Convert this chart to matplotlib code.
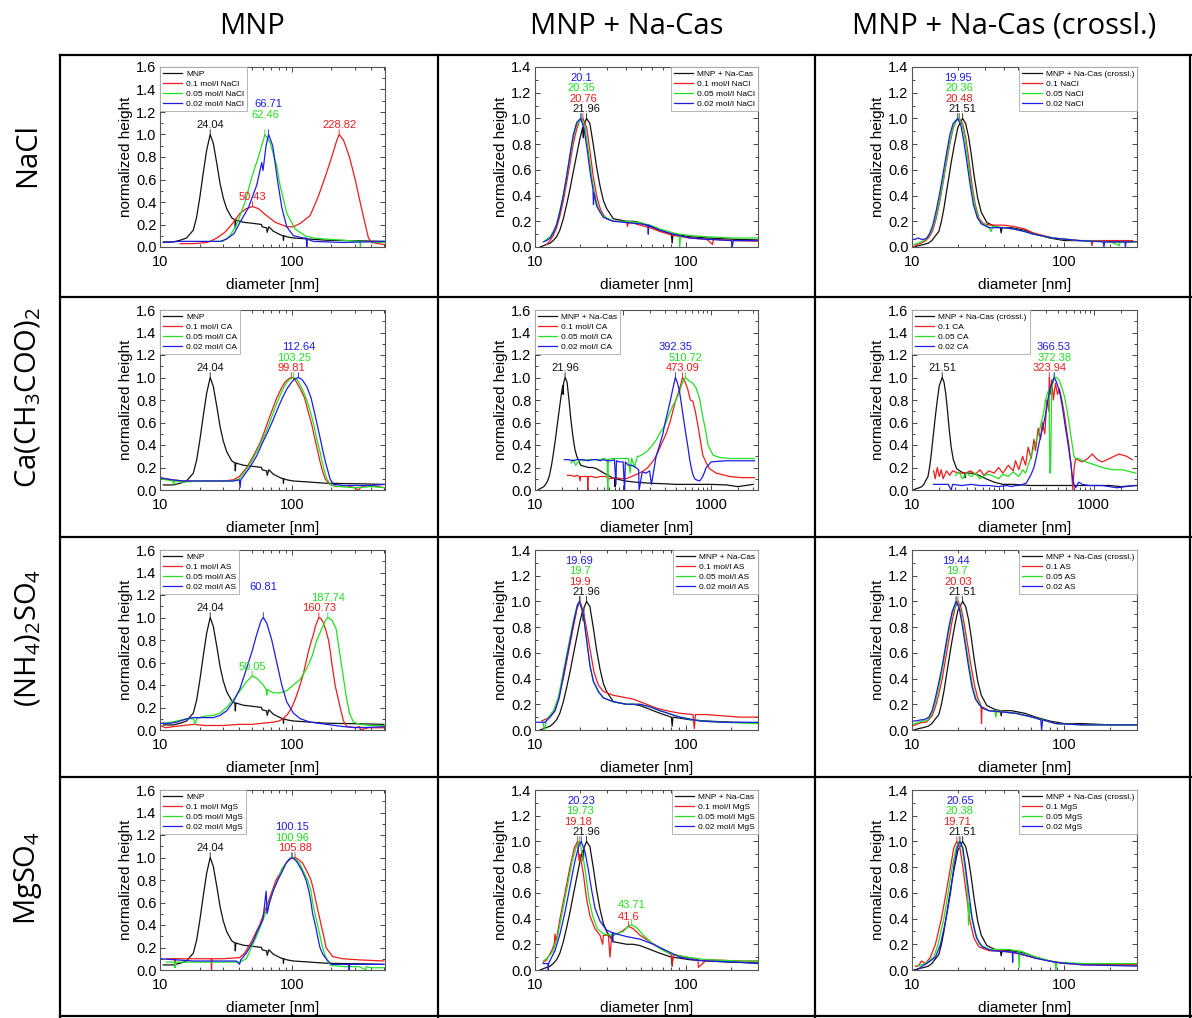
import math
import matplotlib
matplotlib.use("Agg")
import matplotlib.pyplot as plt
from matplotlib.lines import Line2D
from matplotlib.ticker import LogLocator, NullFormatter, MultipleLocator, FuncFormatter

plt.rcParams['font.family'] = ['Liberation Sans', 'DejaVu Sans']
plt.rcParams['mathtext.fontset'] = 'custom'
plt.rcParams['mathtext.rm'] = 'Open Sans'
plt.rcParams['mathtext.it'] = 'Open Sans'

# ---- curves: (diameter [nm], normalized height) ----

# reference (black) curves, one per column
mnp = [(10.6, .045), (12.6, .045), (14.2, .06), (15.9, .08), (17.9, .15), (19.0, .27), (20.1, .45),
       (21.3, .66), (22.6, .86), (24.04, 1.0), (25.4, .92), (27.0, .74), (28.6, .56), (30.3, .43),
       (32.1, .34), (35.0, .26), (37.0, .24), (37.3, .17), (37.6, .24), (43.0, .22), (51.0, .21),
       (59.0, .2), (59.5, .18), (64.5, .17), (65.0, .13), (67.0, .18), (72.5, .14), (81.5, .11),
       (86.0, .10), (86.5, .06), (87.0, .10), (92.0, .09), (103, .08), (138, .07), (184, .06),
       (330, .055), (500, .05)]
mnp_cas = [(10.8, 0), (11.35, .01), (11.95, .02), (12.6, .03), (13.2, .05), (13.9, .08), (14.6, .13),
           (15.4, .22), (16.2, .33), (17.05, .45), (17.9, .58), (18.9, .72), (19.9, .85), (20.7, .93),
           (20.9, .85), (21.1, .95), (21.96, 1.0), (23.1, .96), (24.3, .8), (25.6, .62), (27.0, .47),
           (28.4, .36), (29.8, .3), (33.0, .22), (36.5, .21), (40.5, .2), (44.8, .2), (49.6, .19),
           (57.8, .16), (67.3, .13), (80, .1), (81, .03), (82, .1), (106, .08), (137, .07), (206, .06),
           (300, .055), (400, .05), (700, .05), (1000, .05), (1500, .045), (2000, .03), (3000, .05)]
mnp_cas_x = [(10.3, 0), (11.0, .01), (12.0, .02), (12.8, .03), (13.5, .05), (14.1, .08), (15.0, .12),
             (15.6, .2), (16.2, .3), (16.8, .42), (17.5, .55), (18.1, .66), (19.0, .8), (20.0, .93),
             (21.51, 1.0), (22.5, .96), (23.5, .86), (24.5, .72), (25.6, .55), (27.0, .38), (28.5, .27),
             (31, .19), (35, .16), (38, .15), (38.5, .11), (39, .15), (45, .15), (55, .13), (65, .1),
             (80, .07), (100, .05), (130, .05), (200, .04), (280, .04), (400, .04), (700, .04),
             (1000, .04), (1500, .04), (2000, .03), (3000, .04)]

# NaCl
nacl_01 = [(14.2, .03), (18, .03), (22.6, .04), (24, .05), (27, .08), (31, .13), (35, .2), (40.5, .3),
           (45, .34), (50.4, .36), (56, .34), (62.7, .29), (74.7, .22), (91.6, .18), (103, .18), (116, .21),
           (138, .28), (159, .45), (179, .62), (201, .8), (220, .95), (228.82, 1.0), (247, .95), (274, .8),
           (303, .6), (330, .4), (361, .2), (382, .08), (405, .04), (510, .02)]
nacl_005 = [(24, .05), (30, .05), (34, .1), (38.2, .2), (44.2, .4), (49.7, .62), (55.8, .8), (60.9, .95),
            (62.46, 1.0), (68.4, .93), (76.9, .72), (81.5, .55), (91.6, .3), (106, .16), (126, .1),
            (146, .08), (184, .07), (247, .06), (330, .05), (332, .0), (334, .05), (510, .04)]
nacl_002 = [(10.6, .04), (14, .05), (20, .05), (28.6, .05), (32, .07), (36.5, .12), (40.5, .22), (46.9, .35),
            (54.2, .55), (59.2, .75), (60.5, .68), (63.8, .9), (66.71, 1.0), (71.7, .9), (77.8, .6),
            (84, .35), (91.6, .18), (103, .1), (122.6, .08), (129, .08), (130, .0), (131, .07), (146, .05),
            (247, .04), (510, .05)]
cas_nacl_01 = [(11.95, .02), (12.6, .05), (13.2, .09), (13.9, .15), (14.6, .24), (15.4, .36), (16.2, .5),
               (17.05, .65), (17.9, .8), (18.9, .92), (19.9, .99), (20.76, 1.0), (21.98, .93), (23.1, .75),
               (24.3, .55), (25.6, .4), (27.0, .3), (28.4, .25), (29.8, .22), (33.0, .2), (36.5, .2),
               (40.5, .19), (41, .16), (41.5, .19), (44.8, .185), (49.6, .17), (57.8, .15), (67.3, .12),
               (82.4, .09), (106, .07), (137, .06), (150, .02), (152, .06), (206, .05), (300, .045)]
cas_nacl_005 = [(11.65, .05), (12.6, .08), (13.2, .12), (13.9, .18), (14.6, .28), (15.4, .4), (16.2, .55),
                (17.05, .7), (17.9, .85), (18.9, .95), (20.35, 1.0), (21.44, .93), (22.56, .75), (23.73, .55),
                (25.0, .4), (26.3, .3), (28.4, .24), (33.0, .2), (40.5, .2), (49.6, .19), (57.8, .17),
                (67.3, .14), (82.4, .11), (90, .1), (91, .0), (92, .1), (106, .09), (137, .08), (206, .07),
                (300, .07)]
cas_nacl_002 = [(11.35, .04), (11.95, .05), (12.6, .07), (13.2, .11), (13.9, .17), (14.6, .27), (15.4, .4),
                (16.2, .55), (17.05, .72), (17.9, .87), (18.9, .97), (20.1, 1.0), (21.1, .92), (22.2, .75),
                (23.4, .55), (24.2, .45), (24.4, .33), (24.6, .42), (25.6, .32), (27.0, .27), (28.4, .23),
                (33.0, .2), (40.5, .19), (49.6, .18), (56, .17), (56.3, .1), (56.6, .17), (67.3, .13),
                (82.4, .1), (106, .07), (137, .06), (200, .05), (202, .0), (206, .05), (300, .05)]
x_nacl_01 = [(10.2, 0), (10.8, .02), (11.5, .03), (12.3, .05), (13.0, .08), (13.7, .13), (14.4, .22),
             (15.2, .35), (16.0, .5), (16.8, .65), (17.7, .8), (18.6, .92), (19.5, .98), (20.48, 1.0),
             (21.5, .96), (22.5, .85), (23.6, .68), (24.8, .48), (26, .33), (27.6, .22), (29.5, .18),
             (33, .17), (40, .17), (46.5, .16), (55, .14), (62.4, .11), (84, .07), (125, .05), (150, .05),
             (152, .01), (154, .05), (200, .05), (280, .05)]
x_nacl_005 = [(10.3, .02), (11.0, .03), (11.5, .04), (12.3, .06), (13.0, .09), (13.7, .15), (14.4, .24),
              (15.2, .37), (16.0, .52), (16.8, .67), (17.7, .82), (18.6, .93), (19.5, .98), (20.36, 1.0),
              (21.3, .95), (22.3, .84), (23.4, .66), (24.5, .48), (25.8, .33), (27.3, .22), (29, .18),
              (32, .16), (33, .12), (34, .16), (40, .15), (46.5, .14), (55, .12), (62.4, .1), (84, .07),
              (125, .05), (200, .04), (230, .01), (232, .04), (280, .04)]
x_nacl_002 = [(10.0, .06), (10.5, .06), (11.0, .07), (11.5, .06), (12.0, .06), (12.5, .07), (13.0, .1),
              (13.7, .17), (14.4, .28), (15.2, .42), (16.0, .57), (16.8, .72), (17.7, .87), (18.6, .96),
              (19.95, 1.0), (20.9, .95), (21.9, .82), (23.0, .65), (24.1, .48), (25.3, .33), (26.8, .23),
              (28.5, .18), (32, .15), (40, .15), (46.5, .14), (55, .12), (62.4, .1), (84, .07), (125, .05),
              (180, .04), (182, 0), (184, .04), (250, .04), (252, 0), (254, .04), (280, .04)]

# calcium acetate (CA)
ca_01 = [(10, .11), (11, .1), (12.5, .09), (15, .08), (20, .08), (25, .08), (30, .08), (36, .09), (40, .12),
         (45.5, .2), (51, .3), (57.5, .42), (62, .52), (66.5, .62), (71.5, .72), (77, .82), (83, .9),
         (89, .96), (95, .99), (99.81, 1.0), (106, .98), (116, .9), (125, .82), (133, .7), (142, .58),
         (150, .45), (157, .35), (164, .25), (171, .17), (179, .1), (195, .05), (219, .03), (260, .04),
         (300, .02), (320, .0), (340, .03), (400, .04), (510, .02)]
ca_005 = [(10, .1), (12.5, .08), (12.7, .05), (13, .08), (15, .07), (20, .08), (25, .08), (30, .08),
          (36, .08), (40, .1), (46.5, .2), (52, .3), (58.5, .42), (64, .52), (69, .62), (74, .72), (80, .82),
          (86, .9), (92, .96), (98, .99), (103.25, 1.0), (110, .98), (120, .9), (130, .8), (138, .7),
          (147, .58), (155, .45), (163, .35), (170, .25), (177, .17), (184, .1), (200, .04), (230, .03),
          (300, .02), (400, .03), (510, .02)]
ca_002 = [(10, .11), (11, .1), (12.5, .09), (15, .08), (20, .08), (25, .08), (30, .08), (36, .08), (40, .09),
          (40.5, .02), (41, .09), (48, .2), (54, .3), (60, .42), (66, .52), (72, .62), (78, .72), (85, .82),
          (92, .9), (100, .96), (106, .99), (112.64, 1.0), (120, .98), (130, .92), (140, .82), (148, .7),
          (156, .58), (165, .45), (172, .35), (180, .25), (188, .17), (195, .1), (207, .05), (250, .04),
          (300, .04), (400, .04), (510, .05)]
cas_ca_01 = [(23.5, .13), (26, .13), (28, .12), (30, .13), (31.9, .12), (32.5, .08), (33, .12), (36, .12),
             (39.5, .12), (39.7, .0), (40, .12), (44, .12), (49, .11), (55, .12), (64, .12), (70, .1),
             (83, .11), (95, .1), (108, .1), (125, .12), (153, .15), (170, .17), (191, .2), (215, .25),
             (237, .3), (270, .4), (308, .5), (340, .6), (367, .7), (390, .78), (418, .85), (445, .92),
             (473.09, 1.0), (500, .97), (540, .9), (560, .85), (580, .8), (619, .79), (660, .7), (705, .58),
             (750, .45), (803, .31), (880, .24), (957, .19), (1140, .15), (1615, .12), (2200, .11), (3100, .11)]
cas_ca_005 = [(25.6, .24), (27, .27), (29, .22), (32, .27), (36, .26), (40, .27), (45, .27), (50, .27),
              (55, .27), (60, .28), (66, .27), (67, .0), (68, .27), (75, .28), (85, .28), (95, .28), (105, .28),
              (115, .28), (120, .15), (125, .28), (135, .2), (145, .3), (153, .3), (170, .32), (190, .35),
              (217, .4), (240, .45), (259, .5), (285, .55), (308, .6), (335, .68), (367, .75), (400, .8),
              (436, .87), (470, .95), (510.72, 1.0), (560, .97), (619, .95), (680, .9), (740, .81), (803, .65),
              (870, .52), (920, .4), (1050, .31), (1240, .29), (1615, .28), (2200, .28), (3100, .28)]
cas_ca_002 = [(21.5, .27), (24, .27), (27, .26), (30, .27), (35, .27), (40, .26), (45, .27), (50, .27),
              (55, .26), (60, .27), (66, .26), (73, .26), (79.6, .27), (83, .05), (84, .26), (90, .25),
              (100, .25), (104, .0), (106, .25), (115, .22), (125, .22), (140, .2), (150, .18), (152, .0),
              (165, .16), (182, .15), (200, .17), (210, .05), (237, .3), (260, .4), (283, .5), (300, .6),
              (322, .7), (345, .8), (367, .9), (392.35, 1.0), (415, .95), (436, .88), (456, .78), (476, .68),
              (497, .58), (520, .48), (545, .38), (568, .28), (593, .2), (619, .14), (650, .1), (680, .09),
              (740, .08), (803, .12), (880, .2), (1000, .25), (1470, .26), (3100, .26)]
x_ca_01 = [(17.3, .17), (18, .1), (19, .2), (20, .12), (21, .18), (22, .1), (24, .17), (26, .13), (28, .17),
           (30, .16), (34, .15), (38.7, .15), (44, .17), (50, .14), (56, .18), (62, .13), (70, .17), (80, .15),
           (90, .2), (100, .15), (115, .22), (130, .17), (138, .26), (150, .18), (165, .3), (178, .22),
           (190, .38), (205, .28), (220, .45), (229, .35), (245, .55), (260, .45), (272, .6), (290, .5),
           (305, .8), (322, .7), (323.94, 1.0), (336, .85), (345, .98), (360, .8), (380, .95), (400, .85),
           (420, .9), (451, .78), (470, .7), (490, .6), (510, .5), (533, .4), (550, .3), (568, .2), (590, .0),
           (610, .2), (633, .28), (700, .26), (750, .25), (860, .28), (965, .32), (1100, .27), (1245, .25),
           (1500, .28), (1900, .32), (2300, .3), (2660, .27)]
x_ca_005 = [(30, .13), (33, .16), (36, .1), (40, .15), (45, .12), (50, .15), (56, .1), (63, .13), (70, .14),
            (80, .12), (90, .1), (100, .14), (115, .12), (130, .16), (150, .12), (165, .18), (178, .15),
            (190, .22), (205, .3), (220, .38), (248, .5), (265, .6), (283, .7), (295, .8), (308, .85),
            (322, .9), (330, .15), (336, .2), (345, .9), (356, .95), (372.38, 1.0), (390, 1.0), (415, .98),
            (451, .9), (480, .82), (512, .7), (557, .5), (607, .3), (633, .28), (685, .28), (750, .26),
            (890, .24), (1245, .2), (1600, .18), (2070, .18), (2900, .15)]
x_ca_002 = [(17.3, .05), (20, .05), (25, .05), (27, .0), (28, .05), (35, .04), (45, .05), (55, .04), (70, .04),
            (90, .03), (110, .04), (125, .03), (138, .04), (150, .04), (165, .05), (180, .06), (193, .1),
            (205, .14), (220, .2), (235, .3), (248, .4), (265, .5), (283, .6), (300, .7), (313, .8), (330, .9),
            (348, .95), (366.53, 1.0), (385, .97), (405, .92), (428, .85), (450, .75), (470, .65), (490, .55),
            (513, .45), (535, .35), (557, .25), (580, .13), (607, .05), (633, .02), (685, .07), (750, .05),
            (890, .04), (1245, .04), (1800, .02), (2800, .04)]

# ammonium sulfate (AS)
as_01 = [(10, .04), (11, .02), (12.6, .03), (15, .04), (18, .05), (22, .04), (30, .04), (40, .05), (50, .05),
         (60, .06), (72.6, .07), (80, .08), (86, .1), (93, .14), (100, .2), (106, .27), (112, .35), (117, .42),
         (122.6, .5), (128, .6), (134, .7), (140, .78), (146, .85), (151, .92), (156.7, .97), (160.73, 1.0),
         (167, .99), (174, .95), (182, .88), (190, .8), (196, .7), (201, .6), (207, .5), (213, .4), (223, .3),
         (233, .2), (247, .08), (262, .03), (300, .02), (330, .03), (331, .0), (380, .02), (450, .02),
         (510, .02)]
as_005 = [(10, .06), (11, .06), (13.4, .08), (16, .1), (18, .1), (18.5, .05), (19, .1), (21, .12), (25.4, .13),
          (28.6, .15), (32, .2), (36.1, .27), (40.5, .35), (45.5, .43), (50.05, .48), (54.2, .46), (60.9, .4),
          (64, .36), (64.6, .31), (65.2, .36), (72.6, .33), (81.5, .33), (91.6, .35), (103, .4), (116, .45),
          (130, .55), (142, .65), (155, .8), (169, .9), (179, .97), (187.74, 1.0), (201, .98), (217, .9),
          (230, .7), (244, .5), (259, .3), (274, .15), (294, .07), (330, .05), (400, .04), (510, .04)]
as_002 = [(10, .06), (12, .06), (13.4, .07), (16, .1), (18, .11), (22, .11), (25.4, .11), (28.6, .13),
          (32, .17), (36, .25), (40.5, .37), (45.5, .55), (50, .7), (54.2, .85), (58.4, .97), (60.81, 1.0),
          (64.6, .95), (70.5, .8), (76.9, .6), (84, .4), (91.6, .25), (103, .15), (116, .1), (138, .07),
          (184, .05), (247, .03), (330, .02), (510, .03)]
cas_as_01 = [(11.07, .07), (12.57, .1), (13.57, .15), (14.27, .25), (15.4, .4), (16.62, .6), (17.94, .8),
             (19.06, .95), (19.9, 1.0), (21.1, .9), (22.22, .75), (23.37, .6), (24.6, .45), (26.27, .35),
             (28.35, .3), (33.0, .27), (40.5, .25), (44.8, .24), (49.6, .22), (54.9, .2), (63.9, .17),
             (74.5, .15), (91.3, .13), (111.4, .12), (113.5, .01), (115.5, .12), (136.5, .12), (175.7, .11),
             (230, .1), (301, .1)]
cas_as_005 = [(11.35, .05), (11.5, .0), (11.95, .08), (13.23, .15), (14.27, .25), (15.4, .45), (16.62, .65),
              (17.94, .85), (19.06, .97), (19.7, 1.0), (20.9, .9), (21.98, .7), (23.13, .5), (24.34, .38),
              (26.27, .3), (28.35, .25), (33.0, .22), (40.5, .2), (49.6, .2), (57.8, .18), (67.3, .15),
              (91.3, .1), (123.3, .07), (175.7, .06), (301, .05)]
cas_as_002 = [(10, .06), (11.07, .06), (11.65, .06), (12.57, .1), (13.57, .15), (14.48, .25), (15.56, .45),
              (16.79, .65), (18.12, .85), (19.06, .97), (19.69, 1.0), (20.9, .9), (21.98, .7), (23.13, .5),
              (24.34, .38), (26.27, .3), (28.35, .25), (33.0, .22), (40.5, .2), (49.6, .2), (57.8, .18),
              (67.3, .15), (91.3, .1), (123.3, .07), (175.7, .06), (301, .06)]
x_as_01 = [(10, .03), (10.5, .04), (11.6, .06), (12.3, .06), (12.9, .08), (13.55, .11), (14.25, .18), (15, .28),
           (15.8, .4), (16.6, .55), (17.45, .7), (18.35, .85), (19.2, .95), (20.03, 1.0), (21, .95), (22, .83),
           (23.2, .66), (24.4, .5), (25.7, .35), (27, .25), (28.4, .19), (28.6, .05), (28.8, .18), (30, .17),
           (32, .15), (39.2, .14), (48, .13), (61.8, .1), (88, .05), (132, .04), (300, .04)]
x_as_005 = [(10, .04), (10.5, .05), (11.6, .07), (12.3, .07), (12.9, .09), (13.55, .13), (14.25, .22),
            (15, .33), (15.8, .47), (16.6, .62), (17.45, .77), (18.35, .9), (19.7, 1.0), (20.6, .95),
            (21.6, .82), (22.7, .65), (23.9, .48), (25.1, .33), (26.4, .24), (27.8, .2), (29, .17), (32, .15),
            (35, .15), (35.5, .1), (36, .15), (39.2, .14), (48, .13), (61.8, .1), (88, .05), (132, .04),
            (300, .04)]
x_as_002 = [(10, .07), (10.5, .07), (11.6, .08), (12, .08), (12.9, .1), (13.55, .15), (14.25, .25), (15, .37),
            (15.8, .5), (16.6, .65), (17.45, .8), (18.35, .92), (19.44, 1.0), (20.4, .95), (21.35, .82),
            (22.45, .65), (23.6, .48), (24.84, .33), (26.1, .24), (27.5, .2), (29, .17), (32, .15), (39.2, .14),
            (48, .13), (61.8, .1), (70, .08), (71, .0), (72, .08), (88, .05), (132, .04), (200, .04),
            (300, .04)]

# magnesium sulfate (MgS)
mgs_01 = [(11.2, .1), (12.9, .1), (13.0, .04), (13.1, .1), (15, .1), (20, .1), (24.4, .1), (24.6, .0),
          (24.8, .1), (30, .1), (40.2, .11), (43.9, .15), (49.3, .25), (57, .4), (66, .6), (76, .8),
          (90.6, .95), (98, .99), (105.88, 1.0), (113, .98), (121, .95), (130, .88), (140, .8), (147, .7),
          (153, .6), (160, .5), (167, .4), (175, .3), (182, .2), (204, .12), (243, .1), (325, .09), (500, .08)]
mgs_005 = [(11.2, .07), (12.9, .07), (13.0, .02), (13.1, .07), (20, .07), (30, .07), (40, .07), (45.2, .1),
           (49.3, .2), (54, .3), (58.5, .4), (63, .5), (67.8, .6), (72, .7), (78.4, .8), (84, .9), (90.6, .95),
           (96, .99), (100.96, 1.0), (108, .98), (114.3, .95), (122, .88), (132, .8), (140, .7), (144, .6),
           (150, .5), (157, .4), (164, .3), (171.5, .2), (180, .12), (188, .07), (200, .04), (250, .03),
           (325, .03), (365, .0), (367, .03), (400, .02), (500, .02)]
mgs_002 = [(10, .1), (13.4, .09), (17.9, .08), (25, .08), (30, .08), (38, .08), (40.2, .05), (41, .09),
           (45.2, .15), (50.7, .25), (55, .35), (60.4, .45), (63.9, .7), (65, .5), (67.8, .6), (72, .7),
           (78.4, .8), (85, .88), (90.6, .95), (95, .98), (100.15, 1.0), (106, .98), (111, .95), (120, .88),
           (128.3, .8), (135, .7), (140, .6), (144, .5), (151, .4), (157, .3), (163.6, .2), (172, .14),
           (182.5, .1), (199, .05), (243, .05), (270, .05), (272.8, .0), (275, .05), (330, .05), (500, .05)]
cas_mgs_01 = [(11.35, .06), (11.95, .08), (12.9, .15), (13.4, .2), (13.57, .28), (13.8, .22), (14.64, .4),
              (15.8, .6), (17.05, .8), (18.2, .95), (19.18, 1.0), (19.57, .85), (19.86, .9), (20.9, .75),
              (21.98, .55), (23.13, .42), (24.97, .32), (26.95, .27), (28.06, .2), (28.35, .27), (29.07, .27),
              (30.6, .27), (31.4, .1), (32.2, .27), (33.03, .27), (37.5, .3), (41.6, .34), (44.8, .32),
              (49.6, .27), (57.8, .22), (67.3, .17), (80, .12), (81, .04), (82.4, .12), (101, .1), (120, .08),
              (121, .02), (137, .08), (228, .07), (301, .07)]
cas_mgs_005 = [(11.35, .07), (12.25, .1), (13.23, .15), (14.05, .25), (15.17, .45), (16.37, .65), (17.65, .85),
               (18.88, .97), (19.73, 1.0), (20.68, .9), (21.66, .75), (22.79, .55), (24.1, .42), (25.87, .32),
               (28.35, .28), (33.03, .27), (38.46, .3), (41.6, .34), (43.71, .35), (47.1, .33), (52.2, .27),
               (60.8, .2), (70.8, .15), (82.4, .12), (101, .1), (137, .08), (228, .07), (301, .07)]
cas_mgs_002 = [(11.35, .05), (12.2, .05), (12.25, .0), (12.3, .05), (12.9, .1), (13.57, .15), (14.64, .28),
               (15.8, .45), (17.05, .65), (18.4, .85), (19.57, .97), (20.23, 1.0), (21.44, .92), (22.56, .78),
               (23.73, .62), (24.97, .48), (26.95, .38), (29.83, .31), (32.5, .29), (32.7, .22), (32.9, .29),
               (34.7, .28), (40.5, .26), (49.6, .24), (60.8, .2), (74.5, .15), (91.3, .1), (111.4, .08),
               (137, .07), (228, .06), (301, .05)]
x_mgs_01 = [(10.52, .03), (11.0, .03), (11.52, .07), (12.24, .05), (13.21, .1), (14.25, .2), (15.6, .4),
            (16.75, .6), (17.9, .8), (18.81, .95), (19.71, 1.0), (20.62, .95), (21.58, .8), (22.68, .6),
            (23.84, .4), (25.47, .25), (27.5, .18), (32, .15), (39.2, .15), (48, .13), (61.8, .1), (88, .06),
            (132, .04), (297, .04)]
x_mgs_005 = [(10.79, .03), (12.24, .05), (13.9, .1), (14.83, .2), (16.18, .4), (17.27, .6), (18.35, .8),
             (19.5, .95), (20.38, 1.0), (21.35, .95), (22.23, .8), (23.25, .6), (23.5, .35), (23.7, .52),
             (24.2, .45), (25.86, .3), (27.76, .2), (32, .16), (43.4, .16), (48, .15), (50, .15), (50.5, .02),
             (51, .15), (65, .1), (87, .06), (88, .0), (89, .06), (132, .05), (297, .05)]
x_mgs_002 = [(10.79, .0), (11.64, .03), (12.5, .05), (14.25, .1), (15.38, .2), (16.75, .4), (17.9, .6),
             (18.81, .8), (19.81, .95), (20.65, 1.0), (21.58, .95), (22.46, .8), (23.6, .6), (24.84, .4),
             (26.5, .25), (28.9, .18), (33.7, .15), (43.4, .14), (45.6, .14), (45.8, .06), (46, .14),
             (53.2, .12), (65, .09), (88, .06), (132, .04), (297, .03)]

# peak labels: (diameter, height, series 0=ref 1=0.1 2=0.05 3=0.02)
peaks_nacl = [[(24.04, 1, 0), (228.82, 1, 1), (50.43, .36, 1), (62.46, 1, 2), (66.71, 1, 3)],
              [(21.96, 1, 0), (20.76, 1, 1), (20.35, 1, 2), (20.1, 1, 3)],
              [(21.51, 1, 0), (20.48, 1, 1), (20.36, 1, 2), (19.95, 1, 3)]]
peaks_ca = [[(24.04, 1, 0), (99.81, 1, 1), (103.25, 1, 2), (112.64, 1, 3)],
            [(21.96, 1, 0), (473.09, 1, 1), (510.72, 1, 2), (392.35, 1, 3)],
            [(21.51, 1, 0), (323.94, 1, 1), (372.38, 1, 2), (366.53, 1, 3)]]
peaks_as = [[(24.04, 1, 0), (160.73, 1, 1), (50.05, .48, 2), (187.74, 1, 2), (60.81, 1, 3)],
            [(21.96, 1, 0), (19.9, 1, 1), (19.7, 1, 2), (19.69, 1, 3)],
            [(21.51, 1, 0), (20.03, 1, 1), (19.7, 1, 2), (19.44, 1, 3)]]
peaks_mgs = [[(24.04, 1, 0), (105.88, 1, 1), (100.96, 1, 2), (100.15, 1, 3)],
             [(21.96, 1, 0), (19.18, 1, 1), (41.6, .34, 1), (19.73, 1, 2), (43.71, .35, 2), (20.23, 1, 3)],
             [(21.51, 1, 0), (19.71, 1, 1), (20.38, 1, 2), (20.65, 1, 3)]]

salts = ["NaCl", "CA", "AS", "MgS"]
row_titles = ["NaCl", r"Ca(CH$_3$COO)$_2$", r"(NH$_4$)$_2$SO$_4$", r"MgSO$_4$"]
col_titles = ["MNP", "MNP + Na-Cas", "MNP + Na-Cas (crossl.)"]
concs = ["0.1", "0.05", "0.02"]

refs = [mnp, mnp_cas, mnp_cas_x]
curves = [
    [[nacl_01, nacl_005, nacl_002], [cas_nacl_01, cas_nacl_005, cas_nacl_002], [x_nacl_01, x_nacl_005, x_nacl_002]],
    [[ca_01, ca_005, ca_002], [cas_ca_01, cas_ca_005, cas_ca_002], [x_ca_01, x_ca_005, x_ca_002]],
    [[as_01, as_005, as_002], [cas_as_01, cas_as_005, cas_as_002], [x_as_01, x_as_005, x_as_002]],
    [[mgs_01, mgs_005, mgs_002], [cas_mgs_01, cas_mgs_005, cas_mgs_002], [x_mgs_01, x_mgs_005, x_mgs_002]],
]
peaks = [peaks_nacl, peaks_ca, peaks_as, peaks_mgs]

# ---- layout ----
W, H = 1192, 1018
colors = ['#111111', '#ee1c1c', '#22e022', '#1c1ce6']
col_x = [(160, 385), (535, 758), (912, 1137)]
row_y = [(67, 247), (310, 490), (550, 730), (790, 970)]
label_lift = {62.46: 1, 66.71: 1, 60.81: 2}

fig = plt.figure(figsize=(W / 100, H / 100), dpi=100)

# table lines
for y in [55, 297, 537, 777, 1016]:
    fig.add_artist(Line2D([60 / W, 1], [1 - y / H] * 2, color='k', lw=1.6))
for x in [60, 438, 815, 1190]:
    fig.add_artist(Line2D([x / W] * 2, [1 - 55 / H, 0], color='k', lw=1.6))

for c, t in enumerate(col_titles):
    xc = (col_x[c][0] + col_x[c][1]) / 2 - 20
    fig.text(xc / W, 1 - 26 / H, t, ha='center', va='center', fontsize=21, family='Open Sans')
for r, t in enumerate(row_titles):
    yc = (row_y[r][0] + row_y[r][1]) / 2 - 2
    fig.text(28 / W, 1 - yc / H, t, ha='center', va='center', rotation=90, fontsize=21, family='Open Sans')

for r in range(4):
    for c in range(3):
        x0, x1 = col_x[c]
        y0, y1 = row_y[r]
        ax = fig.add_axes([x0 / W, 1 - y1 / H, (x1 - x0) / W, (y1 - y0) / H])

        ref_label = "MNP + Na-Cas (crossl.)" if c == 2 else col_titles[c]
        d, h = zip(*refs[c])
        ax.plot(d, h, color=colors[0], lw=0.9, label=ref_label)
        for i, cur in enumerate(curves[r][c]):
            if c == 2:
                lab = f"{concs[i]} {salts[r]}"
            else:
                lab = f"{concs[i]} mol/l {salts[r]}"
            d, h = zip(*cur)
            ax.plot(d, h, color=colors[i + 1], lw=0.9, label=lab)

        ax.set_xscale('log')
        wide = (r == 1 and c > 0)
        if c == 0:
            ax.set_xlim(10, 510)
        elif wide:
            ax.set_xlim(10, 3400 if c == 1 else 3000)
        else:
            ax.set_xlim(10, 300)
        top = 1.6 if (c == 0 or wide) else 1.4
        ax.set_ylim(0, top)

        ax.xaxis.set_major_locator(LogLocator(base=10))
        ax.xaxis.set_minor_locator(LogLocator(base=10, subs=range(2, 10)))
        ax.xaxis.set_minor_formatter(NullFormatter())
        ax.xaxis.set_major_formatter(FuncFormatter(lambda v, p: f"{v:g}"))
        ax.yaxis.set_major_locator(MultipleLocator(0.2))
        ax.yaxis.set_minor_locator(MultipleLocator(0.1))
        ax.yaxis.set_major_formatter(FuncFormatter(lambda v, p: f"{v:.1f}"))
        ax.tick_params(which='both', direction='in', top=True, right=True, color='#444', width=0.7)
        ax.tick_params(which='major', length=3.5, labelsize=10.5)
        ax.tick_params(axis='y', which='major', pad=2.5)
        ax.tick_params(axis='x', which='major', pad=6)
        ax.tick_params(which='minor', length=2)
        for s in ax.spines.values():
            s.set_color('#555')
            s.set_linewidth(0.8)
        ax.set_xlabel("diameter [nm]", fontsize=11, labelpad=6)
        ax.set_ylabel("normalized height", fontsize=11, labelpad=2)

        loc = 'upper left' if (c == 0 or wide) else 'upper right'
        leg = ax.legend(loc=loc, fontsize=6, borderaxespad=0, handlelength=2.3, handletextpad=0.5,
                        labelspacing=0.28, borderpad=0.35, fancybox=False, framealpha=1,
                        edgecolor='#aaaaaa')
        leg.get_frame().set_linewidth(0.6)

        # stacked peak labels
        placed = []
        for val, ph, s in peaks[r][c]:
            k = sum(1 for (pv, pp) in placed
                    if abs(math.log10(pv) - math.log10(val)) < 0.12 and abs(pp - ph) < 0.05)
            k += label_lift.get(val, 0)
            placed.append((val, ph))
            ax.annotate('', xy=(val, ph), xytext=(0, 3.5), textcoords='offset points',
                        arrowprops=dict(arrowstyle='-', color=colors[s], lw=0.6, shrinkA=0, shrinkB=0))
            ax.annotate(f"{val:g}", xy=(val, ph), xytext=(0, 4.5 + 7.5 * k), textcoords='offset points',
                        ha='center', va='baseline', fontsize=8, color=colors[s])

fig.savefig("out.png", dpi=100)
